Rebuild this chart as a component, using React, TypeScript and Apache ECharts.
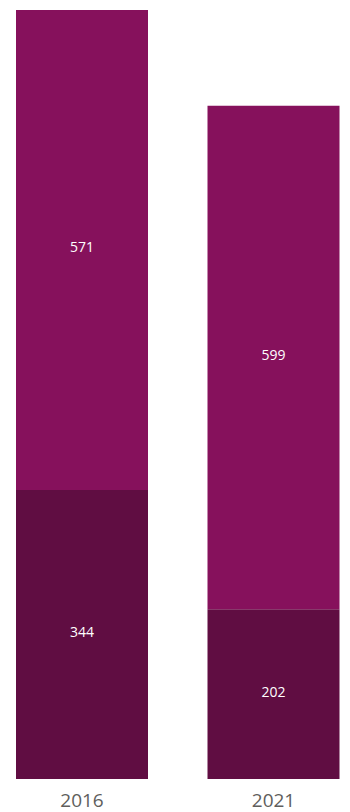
import React, { useEffect, useRef } from "react";
import * as echarts from "echarts";

const categories = ["2016", "2021"];
const lowerValues = [344, 202];
const upperValues = [571, 599];

export default function App() {
  const ref = useRef<HTMLDivElement>(null);
  useEffect(() => {
    if (!ref.current) return;
    const chart = echarts.init(ref.current, null, { renderer: "svg" });
    const label = {
      show: true,
      position: "inside",
      offset: [0, -3],
      color: "#FFFFFF",
      fontSize: 14,
      fontFamily: "Open Sans",
    };
    chart.setOption({
      animation: false,
      grid: { left: 82, right: 76.5, top: 10, bottom: 33, containLabel: false },
      xAxis: {
        type: "category",
        data: categories,
        boundaryGap: false,
        axisLine: { show: false },
        axisTick: { show: false },
        splitLine: { show: false },
        axisLabel: {
          color: "#605E5C",
          fontSize: 19,
          fontFamily: "Open Sans",
          margin: 11,
        },
      },
      yAxis: {
        type: "value",
        min: 0,
        max: 915,
        show: false,
        splitLine: { show: false },
      },
      series: [
        {
          type: "bar",
          stack: "total",
          data: lowerValues,
          barWidth: 132,
          clip: false,
          itemStyle: { color: "#600D42" },
          label,
        },
        {
          type: "bar",
          stack: "total",
          data: upperValues,
          barWidth: 132,
          clip: false,
          itemStyle: { color: "#86115C" },
          label,
        },
      ],
    });
    return () => chart.dispose();
  }, []);
  return <div ref={ref} style={{ width: 350, height: 812, position: "absolute", left: 0, top: 0 }} />;
}
